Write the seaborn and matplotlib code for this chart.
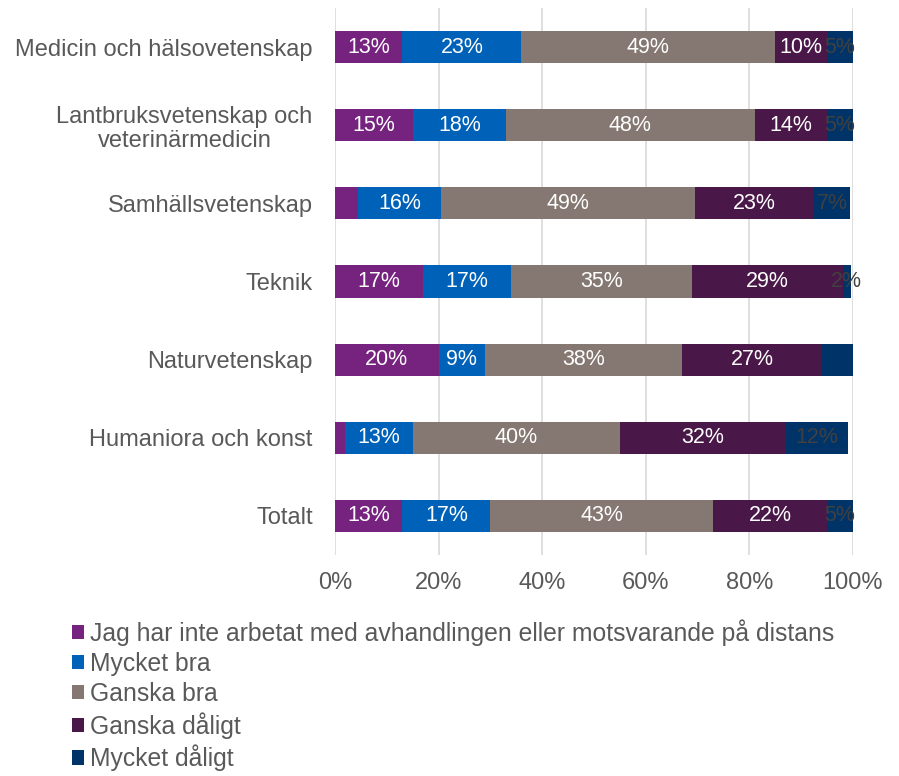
import matplotlib
matplotlib.use("Agg")
import matplotlib.pyplot as plt
import seaborn as sns
import pandas as pd
import numpy as np
from matplotlib.patches import Patch

categories = ["Medicin och hälsovetenskap", "Lantbruksvetenskap och\nveterinärmedicin",
              "Samhällsvetenskap", "Teknik", "Naturvetenskap", "Humaniora och konst", "Totalt"]
series = ["Jag har inte arbetat med avhandlingen eller motsvarande på distans",
          "Mycket bra", "Ganska bra", "Ganska dåligt", "Mycket dåligt"]
ej_arbetat = [13, 15, 4.5, 17, 20, 2, 13]
mycket_bra = [23, 18, 16, 17, 9, 13, 17]
ganska_bra = [49, 48, 49, 35, 38, 40, 43]
ganska_daligt = [10, 14, 23, 29, 27, 32, 22]
mycket_daligt = [5, 5, 7, 1.6, 6, 12, 5]
# segments shown without a data label in the original chart (category index, series index)
hidden_labels = [(2, 0), (5, 0), (4, 4)]

colors = ["#76237F", "#0061B8", "#857872", "#4A1848", "#003468"]
label_colors = ["white", "white", "white", "white", "#404040"]

sns.set_theme(style="white")
plt.rcParams["font.family"] = ["Liberation Sans", "DejaVu Sans"]
text_color = "#595959"

values = [ej_arbetat, mycket_bra, ganska_bra, ganska_daligt, mycket_daligt]
df = pd.DataFrame({s: v for s, v in zip(series, values)})
df["Kategori"] = categories
cum = df[series].cumsum(axis=1)

fig = plt.figure(figsize=(8.99, 7.76), dpi=100)
ax = fig.add_axes([0.3726, 0.2848, 0.5762, 0.7049])

for i in range(len(series) - 1, -1, -1):
    d = pd.DataFrame({"Kategori": categories, "v": cum[series[i]].values})
    sns.barplot(data=d, y="Kategori", x="v", orient="h", color=colors[i],
                width=0.41, ax=ax, saturation=1, linewidth=0, errorbar=None)

for ci in range(len(categories)):
    for si in range(len(series)):
        if (ci, si) in hidden_labels:
            continue
        v = values[si][ci]
        center = cum[series[si]].values[ci] - v / 2
        ax.text(center, ci, f"{v:.0f}%", ha="center", va="center",
                color=label_colors[si], fontsize=15.5)

ax.set_xlim(0, 100)
ax.set_ylim(6.5, -0.5)
ax.set_xticks([0, 20, 40, 60, 80, 100])
ax.set_xticklabels([f"{t}%" for t in [0, 20, 40, 60, 80, 100]])
ax.set_xlabel("")
ax.set_ylabel("")
ax.grid(axis="x", color="#D9D9D9", linewidth=1.2)
ax.grid(axis="y", visible=False)
ax.set_axisbelow(True)
for s in ax.spines.values():
    s.set_visible(False)
ax.tick_params(axis="x", length=0, pad=12, labelsize=17, labelcolor=text_color)
ax.tick_params(axis="y", length=0, pad=16, labelsize=17, labelcolor=text_color)
for lab in ax.get_yticklabels():
    lab.set_multialignment("center")
    lab.set_linespacing(1.15)

handles = [Patch(facecolor=c, edgecolor="none", label=s) for c, s in zip(colors, series)]
leg = fig.legend(handles=handles, loc="upper left", bbox_to_anchor=(0.069, 0.2145),
                 frameon=False, fontsize=17.8, handlelength=0.5, handleheight=0.5,
                 handletextpad=0.25, labelspacing=0.24, borderaxespad=0)
for t in leg.get_texts():
    t.set_color(text_color)

fig.savefig("out.png", dpi=100)
